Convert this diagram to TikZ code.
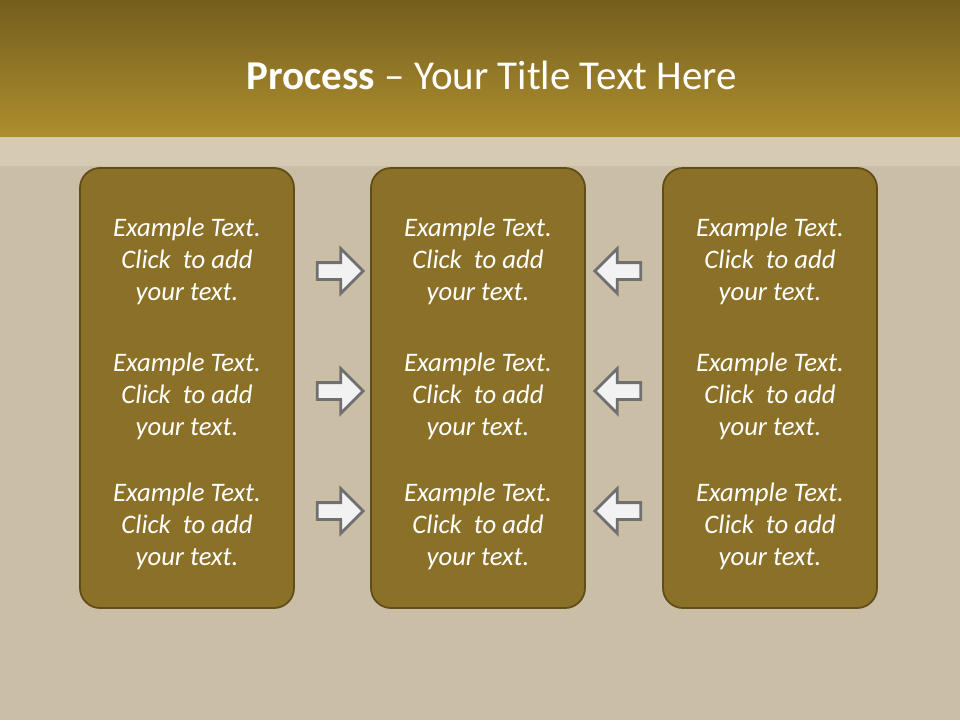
\documentclass[tikz,border=0pt]{standalone}
\usepackage{fontspec}
\setmainfont{Carlito}
\usepackage{xcolor}
\usepackage{tikz}
\usetikzlibrary{shapes,arrows,positioning}

\definecolor{bgtan}{RGB}{203,190,166}
\definecolor{bandtan}{RGB}{214,203,178}
\definecolor{titletop}{RGB}{116,94,31}
\definecolor{titlebot}{RGB}{173,142,46}
\definecolor{boxfill}{RGB}{139,113,40}
\definecolor{boxline}{RGB}{96,77,24}
\definecolor{arrfill}{RGB}{242,242,242}
\definecolor{arrline}{RGB}{112,112,112}

\tikzset{
    stepcol/.style={rectangle, rounded corners=20pt, draw=boxline, line width=1.8pt,
        fill=boxfill, minimum width=214pt, minimum height=440pt},
    steptext/.style={text=white, align=center,
        font=\itshape\fontsize{26.7}{32}\selectfont},
    blockarrow/.style={single arrow, draw=arrline, fill=arrfill, line width=2.8pt,
        inner sep=7pt, minimum height=46pt, single arrow head extend=14pt,
        single arrow head indent=0pt}
}

\begin{document}
\begin{tikzpicture}[x=1pt,y=-1pt]
        \useasboundingbox (0,0) rectangle (960,720);
        % background and title bar
        \fill[bgtan] (0,0) rectangle (960,720);
        \fill[bandtan] (0,136) rectangle (960,166);
        \shade[top color=titletop, bottom color=titlebot] (0,0) rectangle (960,136);
        \node[text=white, font=\fontsize{41}{49}\selectfont] (title) at (492,75)
            {\textbf{Process} -- Your Title Text Here};
        % columns
        \node[stepcol] (colA) at (187,388) {};
        \node[stepcol] (colB) at (478,388) {};
        \node[stepcol] (colC) at (770,388) {};
        \foreach \c/\x in {A/187,B/478,C/770} {
            \foreach \r/\y in {1/261,2/396,3/526} {
                \node[steptext] (txt\c\r) at (\x,\y) {Example Text.\\Click\ \ to add\\your text.};
            }
        }
        % arrows between the columns
        \foreach \r/\y in {1/271,2/391,3/511} {
            \node[blockarrow] (arrR\r) at (336,\y) {};
            \node[blockarrow, shape border rotate=180] (arrL\r) at (622,\y) {};
        }
    \end{tikzpicture}
\end{document}
